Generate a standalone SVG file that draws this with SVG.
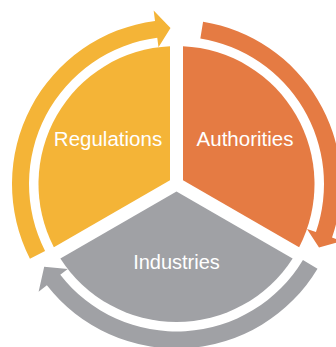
<svg xmlns="http://www.w3.org/2000/svg" width="336" height="347" viewBox="0 0 336 347">
  <style>
    .yellow { fill: #F4B437; }
    .orange { fill: #E57B43; }
    .gray { fill: #A0A1A5; }
    .label { font-family: "Liberation Sans", Arial, sans-serif; font-size: 20.5px; fill: #FFFFFF; text-anchor: middle; }
  </style>
  <rect width="336" height="347" fill="#FFFFFF"/>

  <!-- three pie sectors, centre (176.5,184), radius 138, 13px gaps -->
  <g id="node-regulations">
    <path class="yellow" d="M170,180.25 L170,46.15 A138,138 0 0 0 53.87,247.30 Z"/>
    <text class="label" x="108" y="146">Regulations</text>
  </g>
  <g id="node-authorities">
    <path class="orange" d="M183,180.25 L183,46.15 A138,138 0 0 1 299.13,247.30 Z"/>
    <text class="label" x="245" y="146">Authorities</text>
  </g>
  <g id="node-industries">
    <path class="gray" d="M176.5,191.5 L292.63,258.56 A138,138 0 0 1 60.37,258.56 Z"/>
    <text class="label" x="176.5" y="269" style="font-size:20px">Industries</text>
  </g>

  <!-- circular arrows around the pie (band r 147.5-164.5) -->
  <g id="connectors">
    <path class="yellow" d="M29.93,258.68 A164.5,164.5 0 0 1 155.03,20.91 L153.66,10.50 L170.51,28.11 L158.49,47.19 L157.25,37.77 A147.5,147.5 0 0 0 45.08,250.97 Z"/>
    <path class="orange" d="M203.08,21.65 A164.5,164.5 0 0 1 332.03,237.56 L341.96,240.98 L319.01,247.45 L306.98,228.93 L315.96,232.03 A147.5,147.5 0 0 0 200.34,38.43 Z"/>
    <path class="gray" d="M317.51,268.72 A164.5,164.5 0 0 1 46.87,285.28 L38.60,291.75 L44.21,266.66 L67.76,268.97 L60.27,274.82 A147.5,147.5 0 0 0 302.94,259.96 Z"/>
  </g>
</svg>
